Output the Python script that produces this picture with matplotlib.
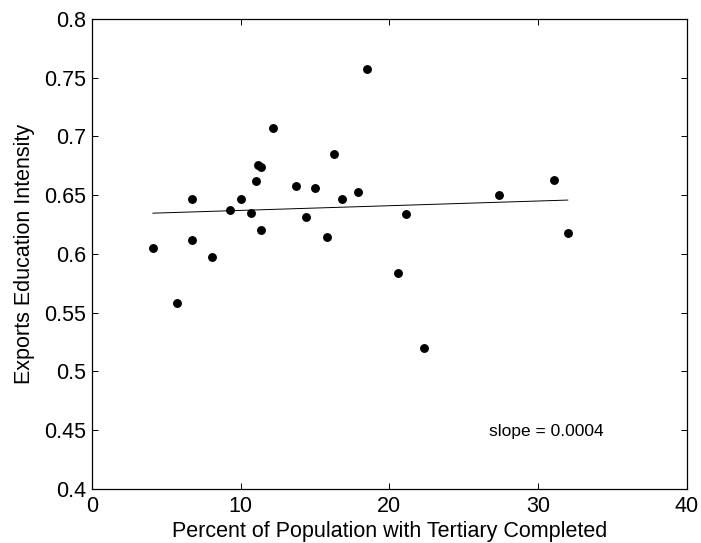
import numpy as np
import matplotlib
matplotlib.use('Agg')
import matplotlib.pyplot as plt

# tertiary completion (%) vs. export education intensity, one point per country
tertiary = [4.1, 5.7, 6.7, 6.7, 8.1, 9.3, 10.0, 10.7, 11.0, 11.2, 11.4, 11.4, 12.2,
            13.7, 14.4, 15.0, 15.8, 16.3, 16.8, 17.9, 18.5, 20.6, 21.1, 22.3,
            27.4, 31.1, 32.0]
intensity = [0.605, 0.558, 0.647, 0.612, 0.597, 0.637, 0.647, 0.635, 0.662, 0.676,
             0.674, 0.620, 0.707, 0.658, 0.631, 0.656, 0.614, 0.685, 0.647, 0.653,
             0.757, 0.584, 0.634, 0.520, 0.650, 0.663, 0.618]

slope = 0.0004
intercept = 0.633

x_ticks = [0, 10, 20, 30, 40]
y_ticks = [0.4, 0.45, 0.5, 0.55, 0.6, 0.65, 0.7, 0.75, 0.8]

plt.rcParams['font.family'] = ['Liberation Sans', 'DejaVu Sans']

fig = plt.figure(figsize=(7.01, 5.43), dpi=100)
ax = fig.add_axes([0.1312, 0.100, 0.8484, 0.865])

ax.plot(tertiary, intensity, 'o', color='black', markersize=6.4, markeredgewidth=0)
xfit = np.array([min(tertiary), max(tertiary)])
ax.plot(xfit, intercept + slope * xfit, color='black', linewidth=0.7)

ax.text(26.7, 0.4487, 'slope = %.4f' % slope, fontsize=12.5, va='center', ha='left')

ax.set_xlim(0, 40)
ax.set_ylim(0.4, 0.8)
ax.set_xticks(x_ticks)
ax.set_yticks(y_ticks)
ax.set_xticklabels([str(t) for t in x_ticks])
ax.set_yticklabels(['%g' % t for t in y_ticks])
ax.tick_params(direction='in', length=4.5, width=0.7, top=True, right=True, labelsize=15.5)
ax.tick_params(axis='x', pad=5)
ax.tick_params(axis='y', pad=4)
for s in ax.spines.values():
    s.set_linewidth(0.9)

ax.set_xlabel('Percent of Population with Tertiary Completed', fontsize=15.5, labelpad=3)
ax.set_ylabel('Exports Education Intensity', fontsize=15.5, labelpad=7)

fig.savefig('out.png', dpi=100)
